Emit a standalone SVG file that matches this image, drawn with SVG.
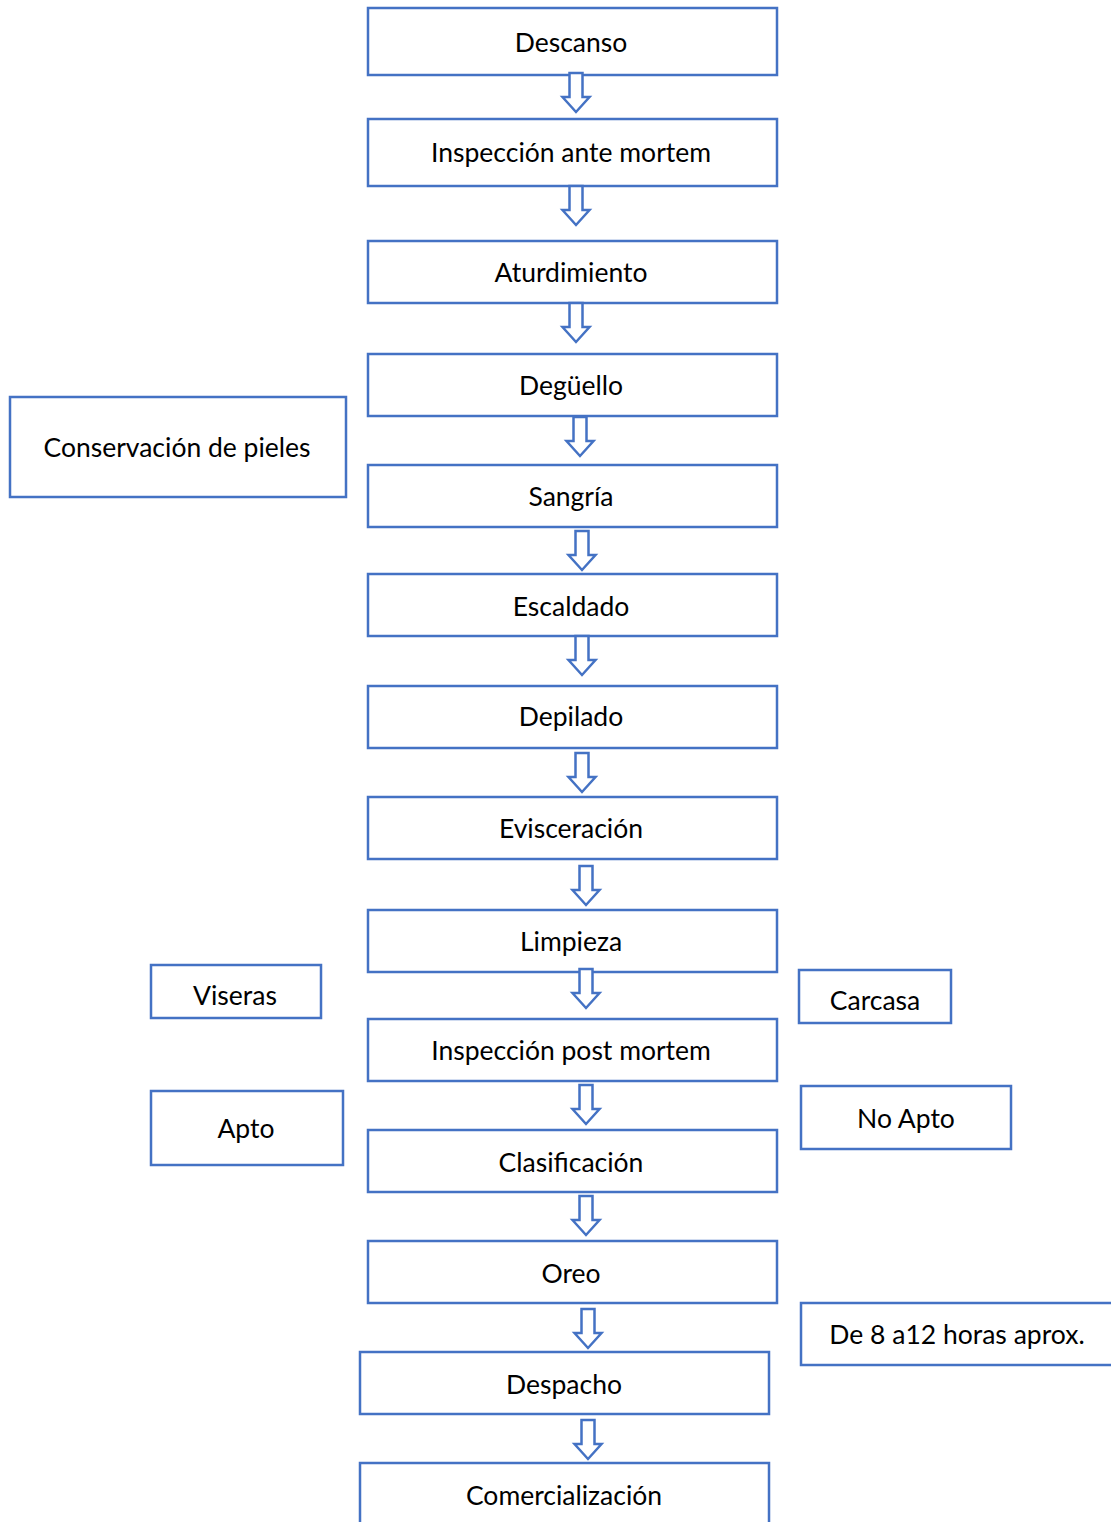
<svg xmlns="http://www.w3.org/2000/svg" width="1111" height="1522" viewBox="0 0 1111 1522">
  <style>
    .box { fill: #ffffff; stroke: #4472C4; stroke-width: 2.5; }
    .lbl { font-family: Lato, "Open Sans", "Liberation Sans", sans-serif; font-size: 26.5px; fill: #000000; text-anchor: middle; }
    .arr { fill: #ffffff; stroke: #4472C4; stroke-width: 2.5; stroke-linejoin: miter; }
  </style>
  <defs>
    <!-- hollow block arrow, top-centre at origin -->
    <path id="down" d="M-6.5,0 H6.5 V24 H13.5 L0,39 L-13.5,24 H-6.5 Z"/>
  </defs>
  <rect width="1111" height="1522" fill="#ffffff"/>

  <!-- main process column -->
  <g id="descanso"><rect class="box" x="368" y="8" width="409" height="67"/><text class="lbl" x="571" y="52">Descanso</text></g>
  <g id="inspeccion-ante"><rect class="box" x="368" y="119" width="409" height="67"/><text class="lbl" x="571" y="162">Inspección ante mortem</text></g>
  <g id="aturdimiento"><rect class="box" x="368" y="241" width="409" height="62"/><text class="lbl" x="571" y="282">Aturdimiento</text></g>
  <g id="deguello"><rect class="box" x="368" y="354" width="409" height="62"/><text class="lbl" x="571" y="395">Degüello</text></g>
  <g id="sangria"><rect class="box" x="368" y="465" width="409" height="62"/><text class="lbl" x="571" y="506">Sangría</text></g>
  <g id="escaldado"><rect class="box" x="368" y="574" width="409" height="62"/><text class="lbl" x="571" y="616">Escaldado</text></g>
  <g id="depilado"><rect class="box" x="368" y="686" width="409" height="62"/><text class="lbl" x="571" y="726">Depilado</text></g>
  <g id="evisceracion"><rect class="box" x="368" y="797" width="409" height="62"/><text class="lbl" x="571" y="838">Evisceración</text></g>
  <g id="limpieza"><rect class="box" x="368" y="910" width="409" height="62"/><text class="lbl" x="571" y="951">Limpieza</text></g>
  <g id="inspeccion-post"><rect class="box" x="368" y="1019" width="409" height="62"/><text class="lbl" x="571" y="1060">Inspección post mortem</text></g>
  <g id="clasificacion"><rect class="box" x="368" y="1130" width="409" height="62"/><text class="lbl" x="571" y="1172">Clasificación</text></g>
  <g id="oreo"><rect class="box" x="368" y="1241" width="409" height="62"/><text class="lbl" x="571" y="1283">Oreo</text></g>
  <g id="despacho"><rect class="box" x="360" y="1352" width="409" height="62"/><text class="lbl" x="564" y="1394">Despacho</text></g>
  <g id="comercializacion"><rect class="box" x="360" y="1463" width="409" height="80"/><text class="lbl" x="564" y="1505">Comercialización</text></g>

  <!-- side notes -->
  <g id="conservacion"><rect class="box" x="10" y="397" width="336" height="100"/><text class="lbl" x="177" y="457">Conservación de pieles</text></g>
  <g id="viseras"><rect class="box" x="151" y="965" width="170" height="53"/><text class="lbl" x="235" y="1005">Viseras</text></g>
  <g id="apto"><rect class="box" x="151" y="1091" width="192" height="74"/><text class="lbl" x="246" y="1138">Apto</text></g>
  <g id="carcasa"><rect class="box" x="799" y="970" width="152" height="53"/><text class="lbl" x="875" y="1010">Carcasa</text></g>
  <g id="no-apto"><rect class="box" x="801" y="1086" width="210" height="63"/><text class="lbl" x="906" y="1128">No Apto</text></g>
  <g id="horas"><rect class="box" x="801" y="1303" width="330" height="62"/><text class="lbl" x="957" y="1344">De 8 a12 horas aprox.</text></g>

  <!-- flow arrows -->
  <g id="connectors" class="arr">
    <use href="#down" x="576" y="73"/>
    <use href="#down" x="576" y="186"/>
    <use href="#down" x="576" y="303"/>
    <use href="#down" x="580" y="417"/>
    <use href="#down" x="582" y="531"/>
    <use href="#down" x="582" y="636"/>
    <use href="#down" x="582" y="753"/>
    <use href="#down" x="586" y="866"/>
    <use href="#down" x="586" y="969"/>
    <use href="#down" x="586" y="1085"/>
    <use href="#down" x="586" y="1196"/>
    <use href="#down" x="588" y="1309"/>
    <use href="#down" x="588" y="1420"/>
  </g>
</svg>
